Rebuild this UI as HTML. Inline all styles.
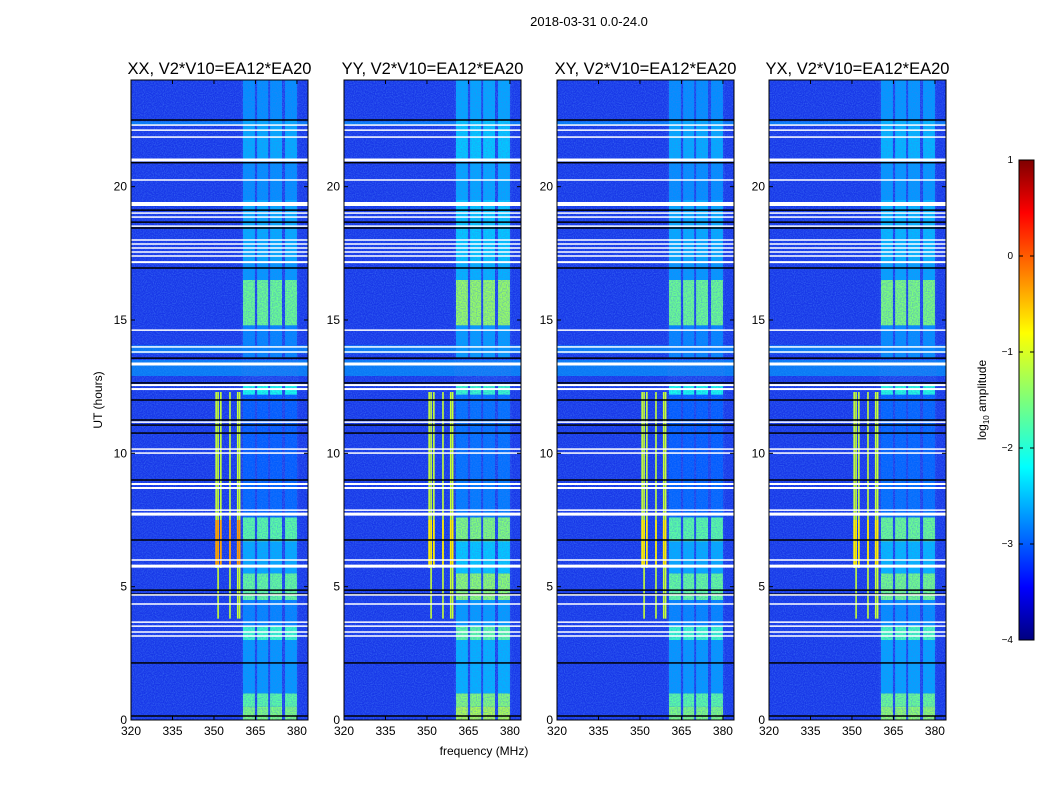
<!DOCTYPE html>
<html><head><meta charset="utf-8"><style>
body{margin:0;background:#fff;}
svg text{font-family:"Liberation Sans",sans-serif;}
</style></head><body>
<svg id="fig" width="1050" height="800" viewBox="0 0 1050 800">
<defs>
<linearGradient id="jet" x1="0" y1="1" x2="0" y2="0">
<stop offset="0" stop-color="#00007f"/><stop offset="0.11" stop-color="#0000ff"/><stop offset="0.36" stop-color="#00ffff"/><stop offset="0.5" stop-color="#7dff7a"/><stop offset="0.64" stop-color="#ffff00"/><stop offset="0.89" stop-color="#ff0000"/><stop offset="1" stop-color="#7f0000"/>
</linearGradient>
<filter id="noise" x="0" y="0" width="100%" height="100%"><feTurbulence type="fractalNoise" baseFrequency="0.9" numOctaves="1" seed="3"/><feColorMatrix values="0 0 0 0 0.1  0 0 0 0 0.35  0 0 0 0 1  0 0 0 0.9 -0.35"/></filter>
<filter id="noise2" x="0" y="0" width="100%" height="100%"><feTurbulence type="fractalNoise" baseFrequency="0.8" numOctaves="1" seed="7"/><feColorMatrix values="0 0 0 0 0.05  0 0 0 0 0.2  0 0 0 0 0.9  0 0 0 1.4 -0.5"/></filter>
</defs>
<text x="589" y="26" font-size="13" text-anchor="middle">2018-03-31 0.0-24.0</text>
<g id="panels"></g>
<text x="484" y="755" font-size="12" text-anchor="middle">frequency (MHz)</text>
<text x="102" y="400" font-size="12" text-anchor="middle" transform="rotate(-90 102 400)">UT (hours)</text>
<g>
<rect x="1019" y="160" width="15" height="480" fill="url(#jet)" stroke="#000" stroke-width="1"/>
<g id="cbticks"></g>
<text x="986" y="400" font-size="12" text-anchor="middle" transform="rotate(-90 986 400)">log<tspan font-size="8" dy="3">10</tspan><tspan dy="-3"> amplitude</tspan></text>
</g>
</svg>
<script>
const titles=["XX, V2*V10=EA12*EA20","YY, V2*V10=EA12*EA20","XY, V2*V10=EA12*EA20","YX, V2*V10=EA12*EA20"];
const panelLeft=[131,344,557,769];
const xTicks=[320,335,350,365,380];
const yTicks=[0,5,10,15,20];
const cbTicks=[1,0,-1,-2,-3,-4];
const whiteUT=[22.31,22.12,21.86,21.0,20.25,19.35,19.01,18.86,18.52,18.0,17.85,17.7,17.55,17.4,17.17,14.62,13.99,13.8,13.35,12.56,12.41,11.17,10.16,10.01,8.85,8.7,7.87,7.72,6.0,5.77,4.69,4.35,3.67,3.52,3.3,3.15];
const whiteW=[1.5,1.5,1.5,3,1.5,4,1.5,1.5,1.5,1.5,1.5,1.5,1.5,1.5,2,1.5,1.5,1.5,3,2,2,1.5,1.5,1.5,2,2,1.5,3,1.5,3,1.5,1.5,1.5,1.5,1.5,1.5];
const blackUT=[22.5,20.9,19.12,18.67,18.45,16.95,13.57,12.64,12.0,11.25,11.06,10.76,9.0,6.75,4.87,4.72,2.14,0.15];
const subBands=[[360.5,364.8],[365.6,369.6],[370.3,374.6],[375.7,380]];
const segStart=[0,0.5,1.0,3.0,3.5,4.5,5.5,6.7,7.6,9.0,12.2,13.6,14.8,16.5,17.2,19.5,21.0,22.5];
const segEnd  =[0.5,1.0,3.0,3.5,4.5,5.5,6.7,7.6,9.0,12.2,12.6,14.8,16.5,17.2,19.5,21.0,22.5,24.0];
const segLevel=[0.5,0.46,0.26,0.42,0.24,0.47,0.28,0.46,0.21,0.2,0.38,0.24,0.48,0.26,0.28,0.25,0.28,0.25];
const panelGain=[1.0,1.1,1.0,1.04];
const rfiFreq=[350.5,351.2,352.2,355.5,358.3,359.0];
const rfiStart=[5.7,3.8,5.7,3.8,3.8,3.8];
const rfiEnd=[12.3,12.3,12.3,12.3,12.3,12.3];
const cyanStart=[12.9,13.75,22.3];
const cyanEnd=[13.5,14.05,22.45];

function jet(v){v=Math.max(0,Math.min(1,v));
 const s=[[0,[0,0,127]],[0.11,[0,0,255]],[0.36,[0,255,255]],[0.5,[125,255,122]],[0.64,[255,255,0]],[0.89,[255,0,0]],[1,[127,0,0]]];
 for(let i=1;i<s.length;i++){if(v<=s[i][0]){const t=(v-s[i-1][0])/(s[i][0]-s[i-1][0]);const a=s[i-1][1],b=s[i][1];return `rgb(${a.map((c,k)=>Math.round(c+(b[k]-c)*t)).join(',')})`;}}return 'rgb(127,0,0)';}
const NS='http://www.w3.org/2000/svg';
function el(tag,attrs,parent){const e=document.createElementNS(NS,tag);for(const k in attrs)e.setAttribute(k,attrs[k]);parent.appendChild(e);return e;}
const yTop=80,yBot=720,pw=177;
const yS=u=>yBot-(u/24)*(yBot-yTop);
const panels=document.getElementById('panels');
panelLeft.forEach((L,p)=>{
 const xS=f=>L+(f-320)*(pw/64);
 const g=el('g',{},panels);
 
 
 const bg=el('rect',{x:L,y:yTop,width:pw,height:yBot-yTop,fill:'#1838e8'},g);
 
 
 el('rect',{x:L,y:yTop,width:pw,height:yBot-yTop,filter:'url(#noise)'},g);
 cyanStart.forEach((s,i)=>{const r=el('rect',{x:L,y:yS(cyanEnd[i]),width:pw,height:yS(s)-yS(cyanEnd[i]),fill:jet(0.28),opacity:0.55},g);
  
  });
 segStart.forEach((s,i)=>{subBands.forEach(b=>{
  const r=el('rect',{x:xS(b[0]),y:yS(segEnd[i]),width:xS(b[1])-xS(b[0]),height:yS(s)-yS(segEnd[i]),fill:jet(segLevel[i]*panelGain[p])},g);
  
  });});
 el('rect',{x:xS(360),y:yTop,width:xS(380.5)-xS(360),height:yBot-yTop,filter:'url(#noise2)',opacity:0.85},g);
 rfiFreq.forEach((f,i)=>{
  const r=el('rect',{x:xS(f),y:yS(rfiEnd[i]),width:1.6,height:yS(rfiStart[i])-yS(rfiEnd[i]),fill:jet(0.58)},g);
  
  
  const r2=el('rect',{x:xS(f),y:yS(7.5),width:1.6,height:yS(5.8)-yS(7.5),fill:jet(p==0?0.74:0.66)},g);
  
  });
 blackUT.forEach(u=>{const r=el('rect',{x:L,y:yS(u)-0.75,width:pw,height:1.5,fill:'#000'},g);
  
  });
 whiteUT.forEach((u,i)=>{const r=el('rect',{x:L,y:yS(u)-whiteW[i]/2,width:pw,height:whiteW[i],fill:'#fff'},g);
  
  });
 const fr=el('rect',{x:L,y:yTop,width:pw,height:yBot-yTop,fill:'none',stroke:'#000','stroke-width':1},g);
 
 
 const t=el('text',{x:L+pw/2,y:yTop-6,'font-size':16.5,'text-anchor':'middle'},g);t.textContent=titles[p];
 
 
 xTicks.forEach(v=>{const x=xS(v);el('line',{x1:x,x2:x,y1:yBot,y2:yBot-4,stroke:'#000'},g);el('line',{x1:x,x2:x,y1:yTop,y2:yTop+4,stroke:'#000'},g);
  const tx=el('text',{x:x,y:yBot+15,'font-size':12,'text-anchor':'middle'},g);tx.textContent=v;
  
  });
 yTicks.forEach(v=>{const y=yS(v);el('line',{x1:L,x2:L+4,y1:y,y2:y,stroke:'#000'},g);el('line',{x1:L+pw,x2:L+pw-4,y1:y,y2:y,stroke:'#000'},g);
  const ty=el('text',{x:L-4,y:y+4,'font-size':12,'text-anchor':'end'},g);ty.textContent=v;
  
  });
});
const cb=document.getElementById('cbticks');
cbTicks.forEach(v=>{const y=160+(1-v)*96;el('line',{x1:1019,x2:1023,y1:y,y2:y,stroke:'#000'},cb);el('line',{x1:1030,x2:1034,y1:y,y2:y,stroke:'#000'},cb);
 const t=el('text',{x:1013,y:y+3,'font-size':10,'text-anchor':'end'},cb);t.textContent=v<0?'\u2212'+(-v):v;
 
 });
</script>
</body></html>
